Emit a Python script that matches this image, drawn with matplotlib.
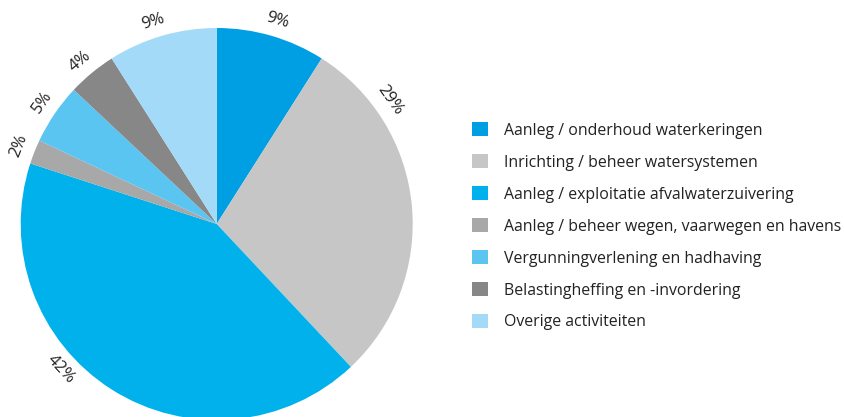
import matplotlib.pyplot as plt
import numpy as np

plt.rcParams['font.family'] = ['Open Sans', 'DejaVu Sans']

labels = [
    "Aanleg / onderhoud waterkeringen",
    "Inrichting / beheer watersystemen",
    "Aanleg / exploitatie afvalwaterzuivering",
    "Aanleg / beheer wegen, vaarwegen en havens",
    "Vergunningverlening en hadhaving",
    "Belastingheffing en -invordering",
    "Overige activiteiten",
]
values = [9, 29, 42, 2, 5, 4, 9]
pct_labels = ["9%", "29%", "42%", "2%", "5%", "4%", "9%"]
colors = ["#009FE3", "#C6C6C6", "#00B1EB", "#A8A8A8", "#5BC5F2", "#878787", "#A3DAF7"]
# label positions (degrees, counter-clockwise from the positive x axis)
label_angles = [73.5, 35.5, -137, 158.5, 145, 130, 107.5]

fig = plt.figure(figsize=(8.44, 4.17), dpi=100)
W, H = 844, 417
cx, cy, r = 216.7, 417 - 224, 196
ax = fig.add_axes([(cx - r) / W, (cy - r) / H, 2 * r / W, 2 * r / H])
wedges, _ = ax.pie(values, colors=colors, startangle=90, counterclock=False,
                   radius=1, wedgeprops=dict(linewidth=0))
ax.set_xlim(-1, 1)
ax.set_ylim(-1, 1)
ax.set_aspect('equal')
ax.axis('off')

for txt, ang in zip(pct_labels, label_angles):
    a = np.deg2rad(ang)
    rot = ang - 90
    if rot < -90:
        rot += 180
    ax.text(1.085 * np.cos(a), 1.085 * np.sin(a), txt, rotation=rot,
            rotation_mode='anchor', ha='center', va='center',
            fontsize=12, color='#222222', clip_on=False)

fig.legend(wedges, labels, loc='upper left', bbox_to_anchor=(472 / W, 1 - 122 / H),
           frameon=False, fontsize=11.45, handlelength=1.0, handleheight=1.0,
           handletextpad=1.0, labelspacing=0.97, borderpad=0, borderaxespad=0,
           labelcolor='#222222')

fig.savefig("out.png", dpi=100)
